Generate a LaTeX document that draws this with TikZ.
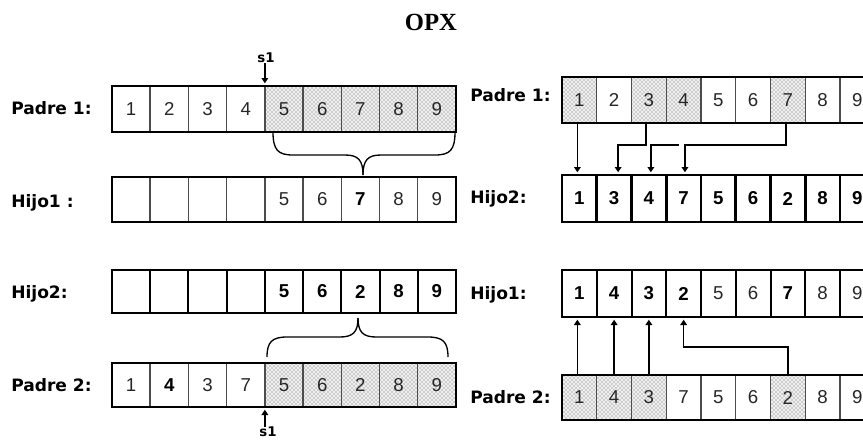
\documentclass[tikz,border=0pt]{standalone}
\usepackage{fontspec}
\setmainfont{Liberation Sans}
\newfontfamily\lblfont{DejaVu Sans}
\newfontfamily\titlefont{Liberation Serif}
\usetikzlibrary{arrows.meta,patterns}
\tikzset{
  cell/.style={inner sep=0pt, outer sep=0pt, anchor=north west, text=black!85,
    font=\fontsize{14}{15}\selectfont},
  cP/.style={},
  cB/.style={font=\fontsize{14}{15}\selectfont\bfseries, text=black},
  cH/.style={fill=gray!12, postaction={pattern=crosshatch dots, pattern color=black!65}},
  lbl/.style={anchor=west, inner sep=0pt, text depth=0pt,
    font=\lblfont\bfseries\fontsize{12.8}{13}\selectfont},
  slbl/.style={inner sep=0pt, text depth=0pt, font=\lblfont\bfseries\fontsize{10}{11}\selectfont},
  frame/.style={line width=2.2pt},
  divg/.style={line width=1.1pt, draw=gray!60!black},
  divb/.style={line width=1.5pt, draw=black},
  divk/.style={line width=2pt, draw=black},
  conn/.style={line width=1pt, -{Triangle[width=5pt,length=4pt]}, shorten >=2pt},
  brace/.style={line width=1pt},
}
% #1 name, #2 x0, #3 y0, #4 cell width, #5 cell height, #6 divider style, #7 cells
\newcommand\cellrow[7]{%
  \foreach \myd/\mys [count=\i] in {#7} {
    \node[cell,\mys,minimum width={#4*0.75pt},minimum height={#5*0.75pt}] (#1\i) at ({#2+(\i-1)*#4},#3) {\myd};
  }
  \foreach \i in {1,...,8} {\draw[#6] (#1\i.north east) -- (#1\i.south east);}
  \draw[frame] (#11.north west) rectangle (#19.south east);
}
\begin{document}
\begin{tikzpicture}[x=0.75pt,y=-0.75pt]
\useasboundingbox (0,0) rectangle (863,440);
\clip (0,0) rectangle (863,440);

\node[font=\titlefont\bfseries\fontsize{18.5}{20}\selectfont] (title) at (431,22) {OPX};

% ---------- left side ----------
\cellrow{La}{112}{86}{38.22}{46}{divg}{1/cP,2/cP,3/cP,4/cP,5/cH,6/cH,7/cH,8/cH,9/cH}
\cellrow{Lb}{112}{177}{38.22}{45}{divg}{/cP,/cP,/cP,/cP,5/cP,6/cP,7/cB,8/cP,9/cP}
\cellrow{Lc}{112}{270}{38.22}{43}{divb}{/cP,/cP,/cP,/cP,5/cB,6/cB,2/cB,8/cB,9/cB}
\cellrow{Ld}{112}{363}{38.22}{44}{divg}{1/cP,4/cB,3/cP,7/cP,5/cH,6/cH,2/cH,8/cH,9/cH}

\node[lbl] (lla) at (11,108) {Padre 1:};
\node[lbl] (llb) at (11,201) {Hijo1 :};
\node[lbl] (llc) at (11,292) {Hijo2:};
\node[lbl] (lld) at (11,385) {Padre 2:};

\node[slbl] (s1t) at (266,58) {s1};
\draw[conn] (s1t.south -| La5.north west) -- (La5.north west);
\node[slbl] (s1b) at (268,432) {s1};
\draw[conn] (s1b.north -| Ld5.south west) -- (Ld5.south west);

\draw[brace] (273,132) .. controls (273,150) and (278,155) .. (293,155) -- (345,155)
  .. controls (358,155) and (363,160) .. (363,175);
\draw[brace] (455,132) .. controls (455,150) and (450,155) .. (435,155) -- (381,155)
  .. controls (368,155) and (363,160) .. (363,175);
\draw[brace] (267,357) .. controls (267,342) and (272,337) .. (287,337) -- (340,337)
  .. controls (353,337) and (358,332) .. (358,318);
\draw[brace] (448,357) .. controls (448,342) and (443,337) .. (428,337) -- (376,337)
  .. controls (363,337) and (358,332) .. (358,318);

% ---------- right side ----------
\cellrow{Ra}{562}{77}{34.75}{46}{divg}{1/cH,2/cP,3/cH,4/cH,5/cP,6/cP,7/cH,8/cP,9/cP}
\cellrow{Rb}{562}{175}{34.75}{47}{divk}{1/cB,3/cB,4/cB,7/cB,5/cB,6/cB,2/cB,8/cB,9/cB}
\cellrow{Rc}{562}{270}{34.75}{47}{divb}{1/cB,4/cB,3/cB,2/cB,5/cP,6/cP,7/cB,8/cP,9/cP}
\cellrow{Rd}{562}{375}{34.75}{45}{divg}{1/cH,4/cH,3/cH,7/cP,5/cP,6/cP,2/cH,8/cP,9/cP}

\node[lbl] (rla) at (470,95) {Padre 1:};
\node[lbl] (rlb) at (470,197) {Hijo2:};
\node[lbl] (rlc) at (470,293) {Hijo1:};
\node[lbl] (rld) at (470,397) {Padre 2:};

\draw[conn] ([xshift=-1.5pt]Ra1.south) -- ([xshift=-1.5pt]Rb1.north);
\draw[conn] ([xshift=-2.25pt]Ra3.south) -- ++(0,22) -| ([xshift=3pt]Rb2.north);
\coordinate (fr) at (679,145);
\draw[conn] (fr) -| ([xshift=1.5pt]Rb3.north);
\draw[conn] ([xshift=-1.5pt]Ra7.south) -- ++(0,22) -| ([xshift=1pt]Rb4.north);

\draw[conn] ([xshift=-1.5pt]Rd1.north) -- ([xshift=-1.5pt]Rc1.south);
\draw[conn] (Rd2.north) -- (Rc2.south);
\draw[conn] (Rd3.north) -- (Rc3.south);
\draw[conn] (Rd7.north) -- ++(0,-28) -| (Rc4.south);
\end{tikzpicture}
\end{document}
